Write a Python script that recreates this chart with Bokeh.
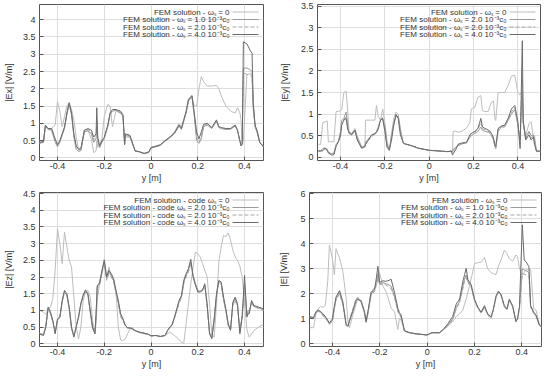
from bokeh.plotting import figure
from bokeh.layouts import column, row
from bokeh.models import Label, Arrow, FixedTicker, Range1d, NumeralTickFormatter
from bokeh.embed import file_html
from bokeh.resources import INLINE

FONT = "Liberation Sans"

X_TICKS = [-0.4, -0.2, 0, 0.2, 0.4]
X_LABEL = "y [m]"

# ---------------- |Ex| ----------------
EX_X = [-0.477, -0.46, -0.452, -0.44, -0.425, -0.41, -0.40, -0.39, -0.38, -0.37,
        -0.36, -0.35, -0.34, -0.33, -0.32, -0.31, -0.30, -0.285, -0.27, -0.255,
        -0.245, -0.235, -0.232, -0.228, -0.22, -0.21, -0.20, -0.185, -0.175, -0.165,
        -0.15, -0.13, -0.12, -0.113, -0.11, -0.09, -0.08, -0.068, -0.05, -0.03,
        -0.01, 0.0, 0.02, 0.04, 0.06, 0.08, 0.10, 0.12, 0.13, 0.15,
        0.16, 0.175, 0.185, 0.195, 0.205, 0.215, 0.225, 0.24, 0.26, 0.28,
        0.29, 0.30, 0.32, 0.34, 0.36, 0.37, 0.38, 0.385, 0.39, 0.395,
        0.41, 0.425, 0.432, 0.437, 0.445, 0.455, 0.465, 0.481]
EX_W0 = [0.45, 0.47, 0.90, 0.85, 0.85, 0.95, 1.63, 1.35, 0.90, 1.20,
         1.50, 1.58, 1.40, 1.10, 0.60, 0.25, 0.20, 0.80, 0.80, 0.55,
         0.15, 0.20, 0.50, 0.30, 0.35, 0.55, 1.20, 1.55, 1.50, 0.90,
         1.35, 1.30, 1.20, 0.50, 0.60, 0.60, 0.40, 0.20, 0.18, 0.12,
         0.15, 0.30, 0.35, 0.38, 0.50, 0.60, 0.75, 1.00, 0.90, 1.30,
         1.65, 1.75, 1.50, 1.50, 2.00, 2.35, 2.20, 2.08, 2.08, 2.10,
         2.00, 1.80, 1.50, 1.35, 1.30, 1.45, 1.30, 1.10, 0.40, 0.50,
         2.40, 2.45, 2.40, 1.40, 0.90, 0.70, 0.45, 0.35]
EX_W1 = [0.42, 0.45, 0.92, 0.82, 0.80, 0.45, 0.32, 0.45, 0.65, 0.85,
         1.25, 1.55, 1.25, 0.60, 0.25, 0.18, 0.22, 0.75, 0.78, 0.70,
         0.45, 0.55, 0.90, 0.50, 0.30, 0.45, 0.55, 0.90, 1.25, 1.35,
         1.38, 1.30, 1.20, 0.40, 0.65, 0.62, 0.43, 0.20, 0.17, 0.12,
         0.16, 0.28, 0.32, 0.36, 0.48, 0.58, 0.70, 0.92, 0.82, 1.30,
         1.65, 1.78, 1.20, 0.50, 0.42, 0.55, 0.90, 0.95, 0.85, 1.05,
         0.88, 0.85, 0.82, 0.83, 0.92, 0.78, 0.48, 0.35, 0.40, 2.60,
         2.60, 2.55, 2.50, 1.55, 0.92, 0.72, 0.44, 0.32]
EX_W2 = [0.43, 0.46, 0.93, 0.83, 0.82, 0.50, 0.35, 0.48, 0.68, 0.88,
         1.28, 1.58, 1.28, 0.65, 0.30, 0.22, 0.25, 0.78, 0.82, 0.75,
         0.52, 0.62, 1.10, 0.55, 0.32, 0.48, 0.58, 0.92, 1.28, 1.38,
         1.40, 1.32, 1.22, 0.38, 0.68, 0.64, 0.44, 0.20, 0.18, 0.13,
         0.17, 0.29, 0.33, 0.37, 0.49, 0.59, 0.71, 0.94, 0.84, 1.32,
         1.68, 1.80, 1.25, 0.60, 0.45, 0.62, 0.94, 0.98, 0.86, 1.08,
         0.89, 0.86, 0.84, 0.84, 0.94, 0.79, 0.49, 0.35, 0.40, 2.45,
         2.42, 2.40, 2.35, 1.50, 0.93, 0.74, 0.45, 0.32]
EX_W4 = [0.45, 0.47, 0.95, 0.85, 0.85, 0.55, 0.38, 0.50, 0.70, 0.90,
         1.30, 1.60, 1.30, 0.70, 0.35, 0.25, 0.28, 0.80, 0.85, 0.80,
         0.60, 0.70, 1.45, 0.60, 0.35, 0.50, 0.60, 0.95, 1.30, 1.40,
         1.40, 1.35, 1.25, 0.38, 0.70, 0.65, 0.45, 0.20, 0.18, 0.13,
         0.17, 0.30, 0.33, 0.38, 0.50, 0.60, 0.72, 0.95, 0.85, 1.35,
         1.70, 1.80, 1.30, 0.75, 0.55, 0.75, 0.97, 1.00, 0.88, 1.10,
         0.90, 0.88, 0.85, 0.85, 0.95, 0.80, 0.50, 0.35, 0.40, 3.36,
         3.30, 3.10, 3.03, 1.60, 0.95, 0.75, 0.45, 0.32]
EX_YTICKS = [0, 0.5, 1, 1.5, 2, 2.5, 3, 3.5, 4]
EX_LEGEND = ["FEM solution - \u03c9\u209b = 0",
             "FEM solution - \u03c9\u209b = 1.0 10\u207b\u00b3c\u2080",
             "FEM solution - \u03c9\u209b = 2.0 10\u207b\u00b3c\u2080",
             "FEM solution - \u03c9\u209b = 4.0 10\u207b\u00b3c\u2080"]

# ---------------- |Ey| ----------------
EY_X = [-0.50, -0.49, -0.48, -0.47, -0.46, -0.455, -0.44, -0.43, -0.42, -0.41,
        -0.40, -0.395, -0.385, -0.375, -0.368, -0.362, -0.35, -0.335, -0.325, -0.305,
        -0.29, -0.287, -0.26, -0.245, -0.238, -0.23, -0.22, -0.21, -0.20, -0.19,
        -0.18, -0.17, -0.16, -0.15, -0.14, -0.13, -0.117, -0.11, -0.095, -0.07,
        -0.05, -0.02, 0.0, 0.03, 0.056, 0.08, 0.10, 0.105, 0.108, 0.12,
        0.13, 0.146, 0.168, 0.183, 0.19, 0.206, 0.22, 0.233, 0.24, 0.251,
        0.266, 0.275, 0.281, 0.29, 0.296, 0.30, 0.311, 0.325, 0.34, 0.356,
        0.371, 0.386, 0.40, 0.41, 0.415, 0.42, 0.424, 0.435, 0.45, 0.46,
        0.47, 0.475, 0.484, 0.502]
EY_W0 = [0.30, 0.30, 0.80, 0.82, 0.84, 0.36, 0.36, 0.36, 1.06, 1.06,
         1.08, 1.10, 1.50, 1.53, 1.12, 0.60, 0.55, 0.67, 0.50, 0.25,
         0.25, 0.86, 0.86, 0.86, 1.20, 0.95, 0.86, 1.12, 0.80, 0.36,
         0.17, 0.55, 0.90, 1.05, 1.00, 0.67, 0.33, 0.31, 0.29, 0.25,
         0.21, 0.18, 0.16, 0.15, 0.14, 0.13, 0.14, 0.14, 0.60, 0.60,
         0.58, 0.60, 0.67, 0.80, 1.12, 1.16, 1.39, 1.43, 1.08, 1.06,
         1.06, 1.20, 1.28, 1.30, 0.90, 0.85, 1.50, 1.50, 1.50, 1.66,
         1.88, 1.90, 1.50, 1.45, 1.50, 1.55, 0.82, 0.50, 0.78, 0.82,
         0.44, 0.50, 0.14, 0.14]
EY_W1 = [0.15, 0.16, 0.20, 0.22, 0.15, 0.12, 0.08, 0.10, 0.30, 0.36,
         0.60, 0.85, 0.90, 1.05, 0.75, 0.55, 0.52, 0.60, 0.45, 0.22,
         0.24, 0.35, 0.50, 0.55, 0.60, 0.70, 0.85, 0.90, 0.70, 0.30,
         0.15, 0.50, 0.78, 0.95, 0.95, 0.62, 0.33, 0.31, 0.29, 0.25,
         0.21, 0.18, 0.16, 0.15, 0.14, 0.13, 0.14, 0.12, 0.18, 0.23,
         0.27, 0.30, 0.35, 0.45, 0.50, 0.55, 0.60, 0.70, 0.62, 0.60,
         0.58, 0.55, 0.50, 0.40, 0.25, 0.20, 0.60, 0.70, 0.70, 0.85,
         1.00, 1.10, 0.75, 0.40, 1.00, 1.50, 0.80, 0.45, 0.60, 0.50,
         0.52, 0.40, 0.14, 0.14]
EY_W2 = [0.15, 0.15, 0.18, 0.20, 0.14, 0.10, 0.06, 0.08, 0.28, 0.35,
         0.55, 0.80, 0.88, 0.95, 0.70, 0.55, 0.55, 0.63, 0.43, 0.21,
         0.25, 0.30, 0.48, 0.53, 0.58, 0.68, 0.87, 0.92, 0.65, 0.25,
         0.16, 0.45, 0.76, 0.98, 0.92, 0.58, 0.33, 0.31, 0.29, 0.25,
         0.21, 0.18, 0.16, 0.15, 0.14, 0.13, 0.14, 0.10, 0.14, 0.21,
         0.29, 0.32, 0.36, 0.48, 0.55, 0.58, 0.65, 0.80, 0.66, 0.64,
         0.60, 0.58, 0.52, 0.42, 0.28, 0.22, 0.65, 0.72, 0.73, 0.88,
         1.05, 1.15, 0.78, 0.30, 1.20, 1.80, 0.80, 0.42, 0.58, 0.45,
         0.50, 0.35, 0.14, 0.14]
EY_W4 = [0.14, 0.14, 0.15, 0.21, 0.18, 0.10, 0.05, 0.06, 0.25, 0.36,
         0.50, 0.74, 0.86, 0.90, 0.65, 0.58, 0.52, 0.63, 0.40, 0.21,
         0.25, 0.30, 0.52, 0.55, 0.57, 0.65, 0.86, 0.90, 0.60, 0.22,
         0.18, 0.40, 0.74, 0.99, 0.90, 0.52, 0.33, 0.31, 0.29, 0.25,
         0.21, 0.18, 0.16, 0.15, 0.14, 0.13, 0.14, 0.05, 0.08, 0.18,
         0.30, 0.33, 0.33, 0.52, 0.55, 0.60, 0.67, 0.90, 0.70, 0.67,
         0.63, 0.60, 0.55, 0.45, 0.29, 0.25, 0.67, 0.72, 0.74, 0.90,
         1.12, 1.20, 0.82, 0.20, 1.43, 2.70, 0.85, 0.40, 0.52, 0.40,
         0.47, 0.30, 0.14, 0.14]
EY_YTICKS = [0, 0.5, 1, 1.5, 2, 2.5, 3, 3.5]
EY_LEGEND = ["FEM solution - \u03c9\u209b = 0",
             "FEM solution - \u03c9\u209b = 2.0 10\u207b\u00b3c\u2080",
             "FEM solution - \u03c9\u209b = 2.0 10\u207b\u00b3c\u2080",
             "FEM solution - \u03c9\u209b = 4.0 10\u207b\u00b3c\u2080"]

# ---------------- |Ez| ----------------
EZ_X = [-0.477, -0.46, -0.45, -0.44, -0.43, -0.42, -0.41, -0.40, -0.39, -0.38,
        -0.37, -0.36, -0.35, -0.34, -0.33, -0.32, -0.31, -0.30, -0.29, -0.28,
        -0.27, -0.26, -0.25, -0.24, -0.235, -0.23, -0.22, -0.21, -0.20, -0.19,
        -0.18, -0.17, -0.16, -0.15, -0.14, -0.13, -0.12, -0.11, -0.10, -0.09,
        -0.08, -0.07, -0.05, -0.03, -0.01, 0.0, 0.02, 0.04, 0.06, 0.07,
        0.08, 0.09, 0.10, 0.11, 0.12, 0.13, 0.14, 0.15, 0.16, 0.17,
        0.18, 0.19, 0.20, 0.21, 0.22, 0.23, 0.24, 0.25, 0.26, 0.27,
        0.28, 0.29, 0.30, 0.31, 0.32, 0.33, 0.34, 0.35, 0.36, 0.37,
        0.38, 0.39, 0.40, 0.41, 0.415, 0.42, 0.43, 0.44, 0.46, 0.481]
EZ_W0 = [1.00, 0.95, 0.88, 1.05, 1.10, 1.35, 2.20, 3.45, 3.00, 2.40,
         3.35, 2.90, 2.50, 2.30, 1.40, 0.50, 0.15, 0.50, 1.30, 1.55,
         1.60, 1.40, 0.70, 0.30, 0.60, 1.30, 1.80, 2.10, 2.55, 2.00,
         2.30, 2.00, 1.90, 1.60, 0.50, 0.12, 0.10, 0.15, 0.30, 0.45,
         0.50, 0.40, 0.33, 0.30, 0.28, 0.22, 0.25, 0.22, 0.25, 0.30,
         0.35, 0.30, 0.25, 0.20, 0.12, 0.05, 0.02, 0.60, 1.20, 1.80,
         2.30, 2.75, 2.70, 2.60, 2.40, 2.20, 2.00, 1.20, 0.30, 0.20,
         1.20, 2.45, 2.90, 3.25, 3.20, 3.32, 3.10, 2.80, 2.60, 2.50,
         2.32, 2.00, 1.20, 0.45, 0.30, 0.20, 0.30, 0.40, 0.50, 0.58]
EZ_W1 = [0.30, 0.27, 0.55, 1.05, 0.92, 0.68, 0.32, 0.72, 0.78, 1.25,
         1.55, 1.45, 1.05, 0.45, 0.22, 0.52, 0.82, 1.22, 1.48, 1.62,
         1.48, 0.95, 0.45, 0.32, 0.85, 1.70, 1.85, 2.15, 2.45, 1.95,
         2.15, 2.05, 1.90, 1.55, 1.25, 0.85, 0.72, 0.55, 0.48, 0.47,
         0.44, 0.40, 0.35, 0.32, 0.28, 0.24, 0.25, 0.22, 0.25, 0.38,
         0.48, 0.56, 0.78, 1.00, 1.25, 1.40, 1.85, 2.05, 2.20, 2.45,
         2.05, 1.80, 1.60, 1.58, 1.62, 1.75, 1.15, 0.35, 0.18, 0.75,
         1.45, 1.88, 1.80, 1.35, 1.00, 0.58, 0.42, 1.20, 1.35, 1.15,
         0.35, 0.85, 1.80, 0.85, 0.95, 0.95, 1.25, 1.12, 1.08, 1.02]
EZ_W2 = [0.32, 0.28, 0.52, 1.08, 0.90, 0.65, 0.35, 0.70, 0.82, 1.28,
         1.58, 1.48, 1.08, 0.48, 0.25, 0.55, 0.78, 1.18, 1.42, 1.58,
         1.45, 0.98, 0.48, 0.35, 0.80, 1.65, 1.78, 2.10, 2.40, 1.90,
         2.10, 2.00, 1.85, 1.50, 1.20, 0.80, 0.70, 0.52, 0.47, 0.46,
         0.44, 0.40, 0.35, 0.32, 0.28, 0.24, 0.25, 0.22, 0.25, 0.37,
         0.47, 0.55, 0.75, 0.98, 1.22, 1.38, 1.80, 2.00, 2.15, 2.40,
         2.02, 1.78, 1.58, 1.56, 1.60, 1.72, 1.10, 0.38, 0.20, 0.78,
         1.40, 1.85, 1.78, 1.30, 0.98, 0.55, 0.45, 1.15, 1.30, 1.10,
         0.38, 0.90, 1.60, 0.90, 1.00, 1.00, 1.22, 1.10, 1.06, 1.00]
EZ_W4 = [0.29, 0.25, 0.50, 1.10, 0.95, 0.70, 0.30, 0.75, 0.80, 1.30,
         1.60, 1.50, 1.10, 0.50, 0.20, 0.50, 0.80, 1.20, 1.45, 1.60,
         1.50, 1.00, 0.50, 0.30, 0.90, 1.75, 1.80, 2.20, 2.50, 2.00,
         2.20, 2.10, 1.95, 1.60, 1.30, 0.90, 0.75, 0.55, 0.48, 0.48,
         0.45, 0.40, 0.35, 0.32, 0.28, 0.24, 0.25, 0.22, 0.25, 0.40,
         0.50, 0.58, 0.80, 1.05, 1.30, 1.45, 1.90, 2.10, 2.25, 2.53,
         2.00, 1.75, 1.55, 1.55, 1.60, 1.80, 1.20, 0.30, 0.15, 0.70,
         1.50, 1.90, 1.85, 1.40, 1.05, 0.60, 0.40, 1.25, 1.40, 1.20,
         0.30, 0.80, 2.05, 0.80, 0.90, 0.90, 1.30, 1.15, 1.10, 1.05]
EZ_YTICKS = [0, 0.5, 1, 1.5, 2, 2.5, 3, 3.5, 4, 4.5]
EZ_LEGEND = ["FEM solution - code \u03c9\u209b = 0",
             "FEM solution - code \u03c9\u209b = 2.0 10\u207b\u00b3c\u2080",
             "FEM solution - code \u03c9\u209b = 2.0 10\u207b\u00b3c\u2080",
             "FEM solution - code \u03c9\u209b = 4.0 10\u207b\u00b3c\u2080"]

# ---------------- |E| ----------------
E_X = [-0.497, -0.48, -0.47, -0.46, -0.45, -0.44, -0.43, -0.42, -0.413, -0.40,
       -0.392, -0.385, -0.37, -0.356, -0.342, -0.335, -0.328, -0.314, -0.30, -0.293,
       -0.279, -0.265, -0.258, -0.25, -0.237, -0.222, -0.215, -0.208, -0.201, -0.187,
       -0.175, -0.166, -0.152, -0.138, -0.124, -0.117, -0.11, -0.096, -0.075, -0.05,
       -0.032, 0.0, 0.02, 0.052, 0.066, 0.087, 0.108, 0.123, 0.137, 0.151,
       0.158, 0.165, 0.172, 0.186, 0.20, 0.214, 0.228, 0.242, 0.256, 0.27,
       0.28, 0.291, 0.301, 0.312, 0.326, 0.337, 0.347, 0.361, 0.375, 0.382,
       0.39, 0.402, 0.41, 0.418, 0.43, 0.437, 0.45, 0.46, 0.474, 0.483]
E_W0 = [0.65, 0.65, 1.20, 1.40, 1.50, 1.45, 1.55, 2.50, 3.95, 3.40,
        2.77, 3.80, 3.42, 2.90, 1.80, 0.90, 0.65, 1.16, 1.60, 1.80,
        1.68, 1.23, 0.84, 1.20, 2.06, 2.25, 2.32, 2.60, 2.84, 2.32,
        2.10, 1.87, 1.42, 1.29, 0.58, 1.03, 0.95, 0.55, 0.45, 0.40,
        0.39, 0.36, 0.45, 0.45, 0.55, 0.70, 0.90, 1.10, 1.20, 1.35,
        1.60, 1.80, 2.06, 2.60, 3.20, 3.24, 3.26, 3.45, 3.00, 2.84,
        2.80, 2.77, 3.10, 3.35, 3.74, 3.61, 3.40, 3.30, 3.55, 3.48,
        3.00, 2.77, 2.85, 2.97, 2.95, 2.97, 1.40, 1.35, 0.77, 0.71]
E_W1 = [1.08, 1.02, 1.25, 1.32, 1.28, 1.15, 1.05, 0.92, 0.80, 0.95,
        1.45, 1.80, 2.05, 1.60, 0.75, 0.72, 0.95, 1.35, 1.78, 1.82,
        1.72, 1.28, 0.88, 1.28, 2.00, 2.15, 2.45, 2.80, 2.40, 2.45,
        2.40, 2.38, 2.30, 1.90, 1.35, 1.20, 1.10, 0.52, 0.45, 0.41,
        0.39, 0.36, 0.45, 0.45, 0.55, 0.75, 1.00, 1.45, 1.70, 2.30,
        2.60, 2.75, 2.50, 2.30, 1.75, 1.45, 1.25, 1.48, 1.18, 1.05,
        1.38, 1.88, 2.08, 1.95, 1.50, 1.38, 1.75, 1.50, 0.90, 1.00,
        1.45, 3.00, 2.95, 2.92, 2.85, 1.50, 1.25, 1.12, 0.75, 0.68]
E_W2 = [1.05, 1.00, 1.22, 1.30, 1.25, 1.12, 1.02, 0.90, 0.78, 0.92,
        1.40, 1.75, 2.00, 1.55, 0.72, 0.75, 0.98, 1.38, 1.80, 1.85,
        1.75, 1.25, 0.85, 1.25, 1.95, 2.10, 2.35, 2.65, 2.35, 2.40,
        2.35, 2.30, 2.20, 1.85, 1.30, 1.15, 1.05, 0.52, 0.45, 0.41,
        0.39, 0.36, 0.45, 0.45, 0.55, 0.72, 0.95, 1.40, 1.65, 2.20,
        2.50, 2.65, 2.45, 2.25, 1.72, 1.42, 1.22, 1.45, 1.15, 1.02,
        1.35, 1.85, 2.05, 1.92, 1.48, 1.35, 1.72, 1.48, 0.92, 1.00,
        1.40, 2.80, 2.78, 2.75, 2.70, 1.45, 1.22, 1.10, 0.74, 0.67]
E_W4 = [1.10, 1.05, 1.29, 1.35, 1.30, 1.20, 1.10, 0.95, 0.84, 1.00,
        1.50, 1.87, 2.13, 1.68, 0.77, 0.70, 0.90, 1.30, 1.74, 1.78,
        1.70, 1.30, 0.90, 1.30, 2.06, 2.19, 2.60, 3.10, 2.45, 2.52,
        2.50, 2.52, 2.58, 2.06, 1.42, 1.25, 1.16, 0.52, 0.45, 0.41,
        0.39, 0.36, 0.45, 0.45, 0.56, 0.80, 1.10, 1.60, 1.79, 2.50,
        2.76, 3.02, 2.57, 2.37, 1.79, 1.47, 1.27, 1.53, 1.20, 1.08,
        1.40, 1.92, 2.11, 1.98, 1.53, 1.40, 1.79, 1.53, 0.89, 1.02,
        1.50, 4.75, 3.34, 3.28, 3.08, 1.53, 1.27, 1.15, 0.76, 0.69]
E_YTICKS = [0, 1, 2, 3, 4, 5, 6]
E_LEGEND = ["FEM solution - \u03c9\u209b = 0",
            "FEM solution - \u03c9\u209b = 1.0 10\u207b\u00b3c\u2080",
            "FEM solution - \u03c9\u209b = 2.0 10\u207b\u00b3c\u2080",
            "FEM solution - \u03c9\u209b = 4.0 10\u207b\u00b3c\u2080"]

LINE_COLORS = ["#bdbdbd", "#9a9a9a", "#a6a6a6", "#6a6a6a"]
LINE_DASHES = ["solid", "solid", "4 2", "solid"]


def make_panel(x, series, ylabel, yticks, xr, yr, legend, fw, fh,
               bl, br, bt, bb, label_standoff):
    for s in series:
        assert len(s) == len(x), (ylabel, len(s), len(x))
    p = figure(frame_width=fw, frame_height=fh,
               x_range=Range1d(*xr), y_range=Range1d(*yr),
               min_border_left=bl, min_border_right=br,
               min_border_top=bt, min_border_bottom=bb,
               output_backend="svg", toolbar_location=None,
               background_fill_color="white", border_fill_color="white")
    p.outline_line_color = "#555555"
    p.outline_line_width = 1
    for ax in (p.xaxis[0], p.yaxis[0]):
        ax.axis_line_color = None
        ax.major_tick_in = 4
        ax.major_tick_out = 0
        ax.major_tick_line_color = "#555555"
        ax.minor_tick_line_color = None
        ax.major_label_text_font = FONT
        ax.major_label_text_font_size = "9px"
        ax.major_label_text_color = "#333333"
        ax.axis_label_text_font = FONT
        ax.axis_label_text_font_size = "9px"
        ax.axis_label_text_font_style = "normal"
        ax.axis_label_text_color = "#333333"
        ax.formatter = NumeralTickFormatter(format="0.[0]")
    p.xaxis[0].ticker = FixedTicker(ticks=X_TICKS)
    p.yaxis[0].ticker = FixedTicker(ticks=yticks)
    p.xaxis[0].axis_label = X_LABEL
    p.yaxis[0].axis_label = ylabel
    p.xaxis[0].major_label_standoff = 2
    p.xaxis[0].axis_label_standoff = 1
    p.yaxis[0].major_label_standoff = 4
    p.yaxis[0].axis_label_standoff = label_standoff
    p.grid.grid_line_color = "#dedede"
    p.grid.grid_line_width = 1

    for s, c, d in zip(series, LINE_COLORS, LINE_DASHES):
        p.line(x, s, line_color=c, line_dash=d, line_width=1)

    for i, (txt, c, d) in enumerate(zip(legend, LINE_COLORS, LINE_DASHES)):
        yy = fh - 7.5 - 7.5 * i
        p.add_layout(Label(x=fw - 34, y=yy, x_units="screen", y_units="screen",
                           text=txt, text_align="right", text_baseline="middle",
                           text_font=FONT, text_font_size="8px",
                           text_color="#333333"))
        p.add_layout(Arrow(end=None, x_start=fw - 31, y_start=yy,
                           x_end=fw - 5, y_end=yy,
                           start_units="screen", end_units="screen",
                           line_color=c, line_dash=d, line_width=1))
    return p


p1 = make_panel(EX_X, [EX_W0, EX_W1, EX_W2, EX_W4], "|Ex| [V/m]", EX_YTICKS,
                (-0.477, 0.481), (-0.076, 4.44), EX_LEGEND,
                224, 156, 35, 13, 4, 25, 6)
p2 = make_panel(EY_X, [EY_W0, EY_W1, EY_W2, EY_W4], "|Ey| [V/m]", EY_YTICKS,
                (-0.504, 0.502), (-0.076, 3.54), EY_LEGEND,
                223, 156, 38, 1, 4, 25, 8)
p3 = make_panel(EZ_X, [EZ_W0, EZ_W1, EZ_W2, EZ_W4], "|Ez| [V/m]", EZ_YTICKS,
                (-0.477, 0.481), (-0.08, 4.53), EZ_LEGEND,
                224, 154, 35, 13, 7, 25, 6)
p4 = make_panel(E_X, [E_W0, E_W1, E_W2, E_W4], "|E| [V/m]", E_YTICKS,
                (-0.497, 0.483), (-0.10, 6.04), E_LEGEND,
                232, 154, 29, 1, 7, 25, 8)

layout = column(row(p1, p2), row(p3, p4))

with open("out.html", "w") as f:
    f.write(file_html(layout, INLINE))
